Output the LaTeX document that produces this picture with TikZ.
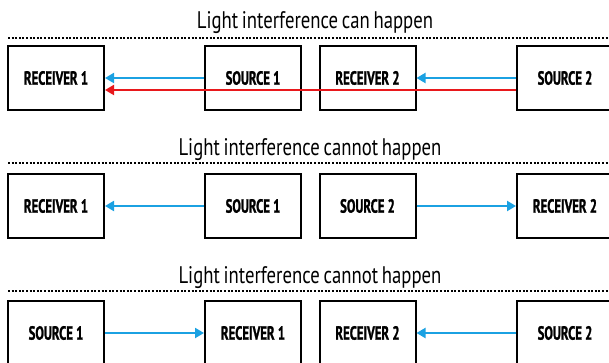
\documentclass[tikz,border=0pt]{standalone}
\usepackage{fontspec}
\usetikzlibrary{arrows.meta}
\newfontfamily\headfont[FakeStretch=0.78, WordSpace=0.75]{PT Sans}
\newfontfamily\unitfont[FakeStretch=0.67, FakeBold=1.2]{PT Sans Bold}
\definecolor{beamblue}{RGB}{27,161,226}
\definecolor{beamred}{RGB}{232,24,28}

\begin{document}
\begin{tikzpicture}[x=1pt, y=-1pt,
    unit/.style={draw, fill=white, line width=2pt, minimum width=96pt, minimum height=64pt,
      inner sep=0pt, font=\unitfont\fontsize{19}{19}\selectfont},
    head/.style={anchor=base, font=\headfont\fontsize{24}{24}\selectfont},
    beam/.style={line width=2pt, beamblue, -{Triangle[length=9pt, width=10pt]}},
    cross/.style={beam, beamred},
    rule/.style={line width=2pt, dash pattern=on 2pt off 1.6pt}]
    \useasboundingbox (0, 0) rectangle (609, 363);

    % can happen
    \node [head] (t1) at (315, 29) {Light interference can happen};
    \draw [rule] (8, 38) -- (609, 38);
    \node [unit] (r1) at (56, 78) {RECEIVER 1};
    \node [unit] (s1) at (253, 78) {SOURCE 1};
    \node [unit] (r2) at (367.5, 78) {RECEIVER 2};
    \node [unit] (s2) at (565, 78) {SOURCE 2};
    \draw [beam] (s1.west) -- (r1.east);
    \draw [beam] (s2.west) -- (r2.east);
    \draw [cross] ([yshift=-12pt]s2.west) -- ([yshift=-12pt]r1.east);

    % cannot happen, sources face outwards
    \node [head] (t2) at (310, 156) {Light interference cannot happen};
    \draw [rule] (8, 163) -- (609, 163);
    \node [unit] (r1b) at (56, 206) {RECEIVER 1};
    \node [unit] (s1b) at (253, 206) {SOURCE 1};
    \node [unit] (s2b) at (367.5, 206) {SOURCE 2};
    \node [unit] (r2b) at (565, 206) {RECEIVER 2};
    \draw [beam] (s1b.west) -- (r1b.east);
    \draw [beam] (s2b.east) -- (r2b.west);

    % cannot happen, sources face inwards
    \node [head] (t3) at (310, 283) {Light interference cannot happen};
    \draw [rule] (8, 291) -- (609, 291);
    \node [unit] (s1c) at (56, 333) {SOURCE 1};
    \node [unit] (r1c) at (253, 333) {RECEIVER 1};
    \node [unit] (r2c) at (367.5, 333) {RECEIVER 2};
    \node [unit] (s2c) at (565, 333) {SOURCE 2};
    \draw [beam] (s1c.east) -- (r1c.west);
    \draw [beam] (s2c.west) -- (r2c.east);
\end{tikzpicture}
\end{document}
